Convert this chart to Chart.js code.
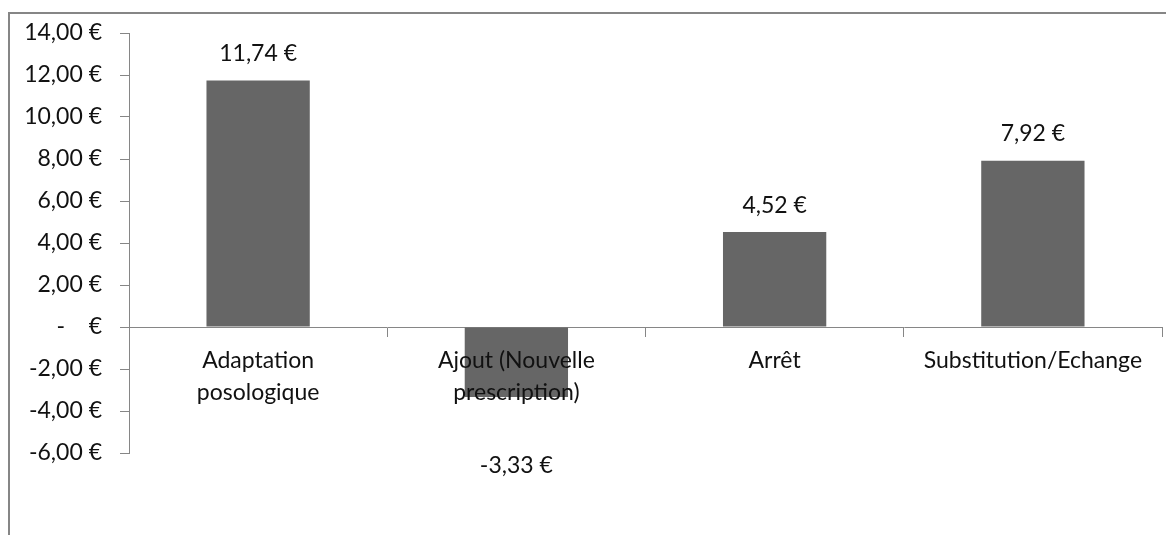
<!DOCTYPE html>
<html>
<head>
<meta charset="utf-8">
<script src="https://cdn.jsdelivr.net/npm/chart.js@4"></script>
<style>
  html, body { margin: 0; padding: 0; background: #fff; }
  #wrap { width: 1166px; height: 535px; position: relative; }
</style>
</head>
<body>
<div id="wrap"><canvas id="grafico"></canvas></div>
<script>
const categories = [['Adaptation', 'posologique'], ['Ajout (Nouvelle', 'prescription)'], 'Arrêt', 'Substitution/Echange'];
const values = [11.74, -3.33, 4.52, 7.92];
const yTicks = [-6, -4, -2, 0, 2, 4, 6, 8, 10, 12, 14];

const fmtEuro = (v) => v === 0 ? '-    €' : v.toFixed(2).replace('.', ',') + '\u00a0€';

const gris = '#868686';
const police = 'Lato, "Open Sans", sans-serif';
const taille = 23;

// cadre gris en haut et à gauche, comme dans l'export Excel
const cadre = {
    id: 'cadre',
    beforeDraw: (chart) => {
        let ctx = chart.ctx;
        ctx.save();
        ctx.strokeStyle = gris;
        ctx.lineWidth = 2;
        ctx.beginPath();
        ctx.moveTo(9, 535);
        ctx.lineTo(9, 13);
        ctx.lineTo(1166, 13);
        ctx.stroke();
        ctx.restore();
    }
};

const etiquettes = {
    id: 'etiquettes',
    afterDatasetsDraw: (chart) => {
        let ctx = chart.ctx;
        let meta = chart.getDatasetMeta(0);
        ctx.save();
        ctx.font = taille + 'px ' + police;
        ctx.fillStyle = '#111';
        ctx.textAlign = 'center';
        ctx.textBaseline = 'middle';
        meta.data.forEach((bar, i) => {
            let v = values[i];
            let y = v >= 0 ? bar.y - 27 : bar.y + 69;
            ctx.fillText(fmtEuro(v), bar.x, y);
        });
        ctx.restore();
    }
};

let ctx = document.getElementById('grafico').getContext('2d');
new Chart(ctx, {
    type: 'bar',
    data: {
        labels: categories,
        datasets: [{
            data: values,
            backgroundColor: '#666666',
            barPercentage: 0.8,
            categoryPercentage: 0.5
        }]
    },
    options: {
        responsive: true,
        maintainAspectRatio: false,
        animation: false,
        layout: { padding: { left: 0, right: 4, top: 33, bottom: 82 } },
        plugins: { legend: { display: false }, tooltip: { enabled: false } },
        scales: {
            y: {
                min: -6, max: 14,
                afterBuildTicks: (s) => { s.ticks = yTicks.map(v => ({ value: v })); },
                afterFit: (s) => { s.width = 129; },
                grid: { drawOnChartArea: false, drawTicks: true, tickLength: 9, tickColor: gris, tickWidth: 1 },
                border: { display: true, color: gris, width: 1 },
                ticks: {
                    callback: (v) => fmtEuro(v),
                    font: { family: police, size: taille },
                    color: '#111',
                    padding: 18
                }
            },
            x: {
                position: { y: 0 },
                grid: { offset: true, drawOnChartArea: false, drawTicks: true, tickLength: 9, tickColor: gris, tickWidth: 1 },
                border: { display: true, color: gris, width: 1 },
                ticks: {
                    z: 1,
                    font: { family: police, size: taille, lineHeight: 1.4 },
                    color: '#111',
                    padding: 8,
                    maxRotation: 0,
                    autoSkip: false
                }
            }
        }
    },
    plugins: [cadre, etiquettes]
});
</script>
</body>
</html>
